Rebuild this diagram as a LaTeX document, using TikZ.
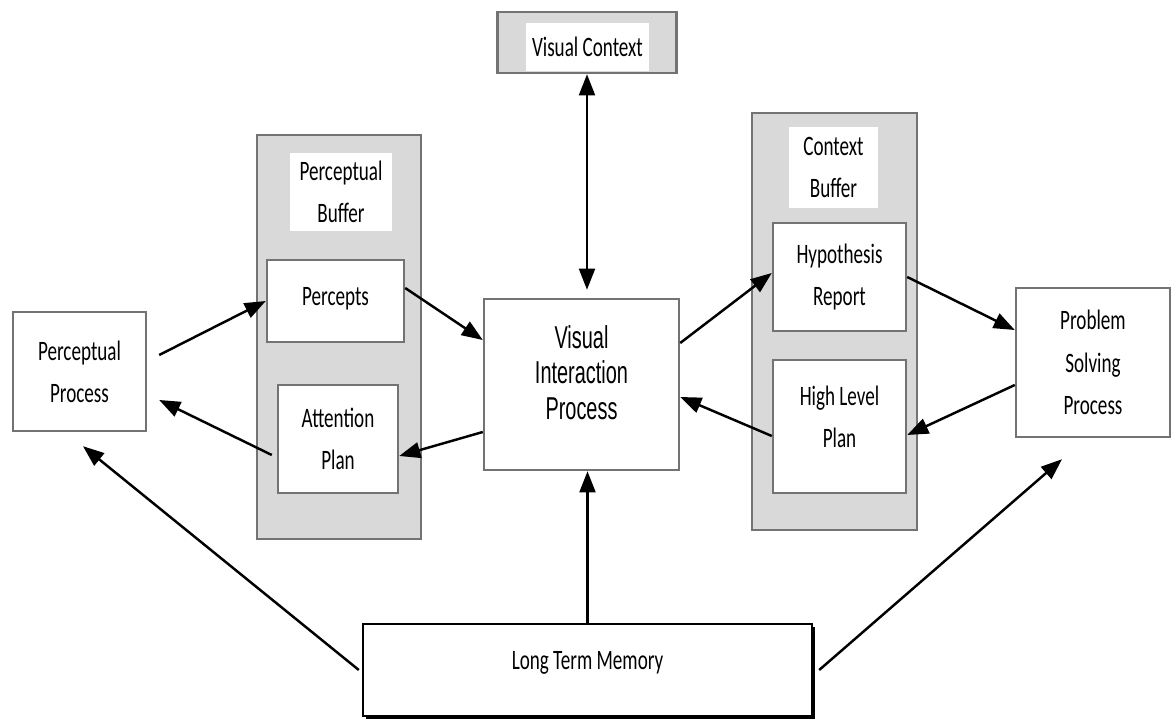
\documentclass[tikz,border=0pt]{standalone}
\usepackage{fontspec}
\setmainfont{Carlito}[FakeStretch=0.68]
\newfontfamily\vipfont{Liberation Sans}[FakeStretch=0.63]
\usepackage{xcolor}
\colorlet{colorBuffer}{black!15}
\colorlet{colorFrame}{black!55}
\usepackage{tikz}
\usetikzlibrary{arrows.meta, shadows}
\tikzset{
  buffer/.style={draw=colorFrame, fill=colorBuffer, line width=1.4pt, inner sep=0pt},
  bufferlabel/.style={fill=white, inner sep=0pt, align=center},
  unit/.style={draw=colorFrame, fill=white, line width=1.4pt, inner sep=0pt, align=center}
}

\begin{document}
\begin{tikzpicture}[x=0.02cm, y=-0.02cm, >={Triangle[length=12pt, width=9pt]}, line width=1.4pt, font=\fontsize{16}{24}\selectfont]
\useasboundingbox (0,0) rectangle (1171,720);
\node[buffer, minimum width=3.58cm, minimum height=1.22cm] (vctx) at (587,42.5) {};
\node[bufferlabel, minimum width=2.46cm, minimum height=0.96cm] (vctxl) at (587.5,47) {Visual Context};
\node[buffer, minimum width=3.28cm, minimum height=8.08cm] (pbuf) at (339,337) {};
\node[bufferlabel, minimum width=2.04cm, minimum height=1.56cm] (pbufl) at (341,192) {Perceptual\\Buffer};
\node[unit, minimum width=2.74cm, minimum height=1.64cm] (perc) at (335.5,301) {Percepts\rule[-0.2cm]{0pt}{0pt}};
\node[unit, minimum width=2.4cm, minimum height=2.16cm] (attn) at (338,439) {Attention\\Plan};
\node[buffer, minimum width=3.3cm, minimum height=8.34cm] (cbuf) at (834.5,321.5) {};
\node[bufferlabel, minimum width=1.78cm, minimum height=1.62cm] (cbufl) at (833.5,167.5) {Context\\Buffer};
\node[unit, minimum width=2.66cm, minimum height=2.16cm] (hyp) at (839.5,277) {Hypothesis\\Report};
\node[unit, minimum width=2.66cm, minimum height=2.66cm] (hlp) at (839.5,426.5) {High Level\\Plan\rule[-0.38cm]{0pt}{0pt}};
\node[unit, minimum width=2.66cm, minimum height=2.38cm] (pp) at (79.5,371.5) {Perceptual\\Process};
\node[unit, minimum width=3.08cm, minimum height=2.98cm] (psp) at (1093,362.5) {Problem\\Solving\\Process};
\node[unit, minimum width=3.9cm, minimum height=3.42cm, font=\vipfont\fontsize{18}{20}\selectfont] (vip) at (581.5,384.5) {Visual\\Interaction\\Process\rule[-0.48cm]{0pt}{0pt}};
\node[unit, draw=black, minimum width=8.98cm, minimum height=1.84cm, drop shadow={shadow xshift=0.06cm, shadow yshift=-0.06cm, fill=black, opacity=1}] (ltm) at (587.5,670) {Long Term Memory\rule[-0.4cm]{0pt}{0pt}};
\draw [<->, shorten >=0.16cm] (vctx.south) -- (vctx.south |- vip.north);
\draw [->] ([shift={(0.24cm,0.33cm)}]pp.east) -- (perc.west);
\draw [->] ([yshift=0.26cm]perc.east) -- ([yshift=0.89cm]vip.west);
\draw [->] ([yshift=-0.95cm]vip.west) -- ([yshift=-0.34cm]attn.east);
\draw [->] ([shift={(-0.1cm,-0.32cm)}]attn.west) -- ([shift={(0.24cm,-0.57cm)}]pp.east);
\draw [->] ([yshift=0.83cm]vip.east) -- ([yshift=0.08cm]hyp.west);
\draw [->] (hyp.east) -- ([yshift=0.65cm]psp.west);
\draw [->] ([yshift=-0.45cm]psp.west) -- ([yshift=-0.17cm]hlp.east);
\draw [->] ([yshift=-0.19cm]hlp.west) -- ([yshift=-0.25cm]vip.east);
\draw [->] (ltm.north) -- (ltm.north |- vip.south);
\draw [->] ([xshift=-0.06cm]ltm.west) -- ([shift={(0.07cm,-0.28cm)}]pp.south);
\draw [->] ([xshift=0.12cm]ltm.east) -- ([shift={(-0.62cm,-0.42cm)}]psp.south);
\end{tikzpicture}
\end{document}
